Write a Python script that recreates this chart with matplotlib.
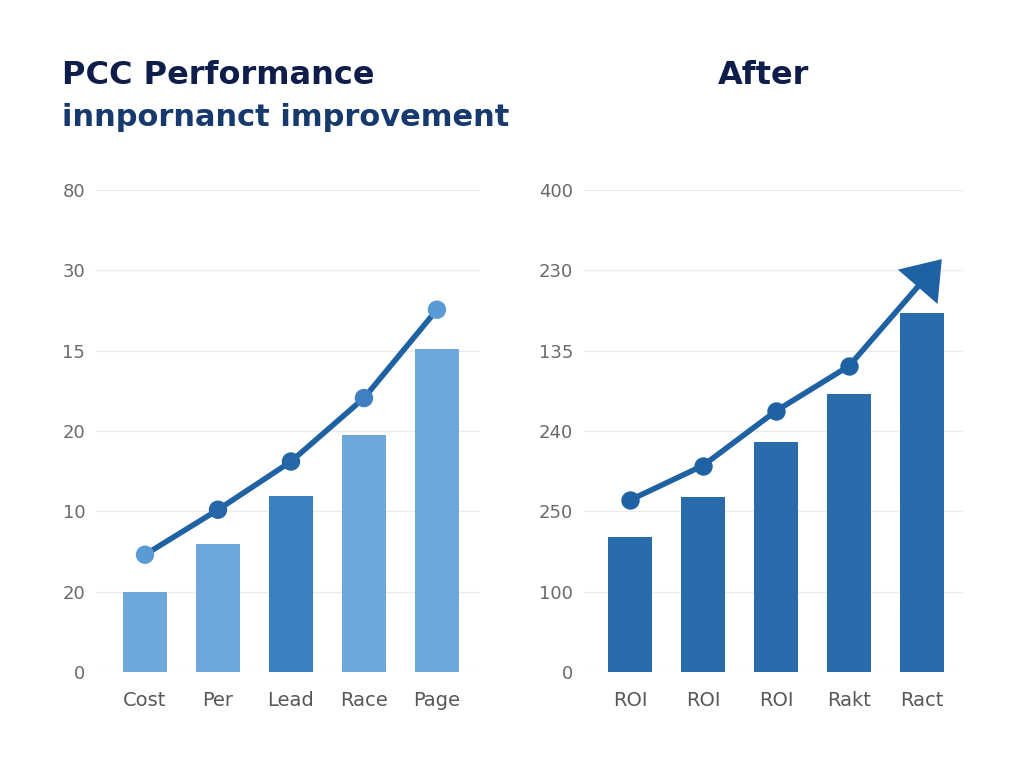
import numpy as np
import matplotlib.pyplot as plt
from matplotlib.patches import FancyArrowPatch

# the tick labels in the source are not monotonic, so values are in grid units
left_cats = ["Cost", "Per", "Lead", "Race", "Page"]
left_bars = [1.0, 1.59, 2.19, 2.95, 4.02]
left_line = [1.46, 2.02, 2.62, 3.41, 4.51]
left_yticklabels = ["0", "20", "10", "20", "15", "30", "80"]

right_cats = ["ROI", "ROI", "ROI", "Rakt", "Ract"]
right_bars = [1.68, 2.18, 2.86, 3.46, 4.47]
right_line = [2.14, 2.57, 3.25, 3.81]
right_arrow_tip = (4.27, 5.14)
right_yticklabels = ["0", "100", "250", "240", "135", "230", "400"]

LIGHT = "#6ea8da"
MID = "#3a7fbf"
DARK = "#2466a8"
LINE = "#1f62a3"
NAVY = "#0f1d4a"
NAVY2 = "#163a6e"

fig = plt.figure(figsize=(10.24, 7.68), dpi=100)
W, H = 1024, 768


def make_ax(x0, x1, y_top, y_bot):
    return fig.add_axes([x0 / W, (H - y_bot) / H, (x1 - x0) / W, (y_bot - y_top) / H])


def style(ax, labels, cats):
    ax.set_ylim(0, 6)
    ax.set_yticks(range(7))
    ax.set_yticklabels(labels, fontsize=13, color="#6a6a6a")
    ax.set_xticks(range(5))
    ax.set_xticklabels(cats, fontsize=14, color="#585858")
    ax.tick_params(length=0)
    ax.tick_params(axis="y", pad=7)
    ax.tick_params(axis="x", pad=14)
    for s in ax.spines.values():
        s.set_visible(False)
    ax.grid(axis="y", color="#ebebeb", linewidth=1)
    ax.set_axisbelow(True)


# left panel
ax1 = make_ax(95, 480, 190, 672)
x = np.arange(len(left_cats))
bar_cols = [LIGHT, LIGHT, MID, LIGHT, LIGHT]
ax1.bar(x, left_bars, width=0.6, color=bar_cols)
ax1.plot(x, left_line, color=LINE, linewidth=4, zorder=3, solid_capstyle="round")
mk_cols = ["#5b9bd5", DARK, DARK, "#3f80c0", "#5b9bd5"]
ax1.scatter(x, left_line, s=150, color=mk_cols, zorder=4, clip_on=False)
ax1.set_xlim(-0.685, 4.59)
style(ax1, left_yticklabels, left_cats)

# right panel
ax2 = make_ax(583, 963, 190, 672)
x2 = np.arange(len(right_cats))
ax2.bar(x2, right_bars, width=0.6, color="#2a6cab")
xl = x2[:len(right_line)]
ax2.plot(xl, right_line, color=LINE, linewidth=4, zorder=3)
ax2.scatter(xl, right_line, s=150, color=LINE, zorder=4)
arr = FancyArrowPatch((xl[-1], right_line[-1]), right_arrow_tip,
                      arrowstyle="-|>,head_length=0.7,head_width=0.5",
                      mutation_scale=30, color=LINE, linewidth=4,
                      joinstyle="miter", capstyle="butt",
                      shrinkA=0, shrinkB=0, zorder=3, clip_on=False)
ax2.add_patch(arr)
ax2.set_xlim(-0.644, 4.56)
style(ax2, right_yticklabels, right_cats)

# titles
fig.text(62 / W, 1 - 75 / H, "PCC Performance", fontsize=23, fontweight="bold",
         color=NAVY, va="center", ha="left")
fig.text(62 / W, 1 - 117 / H, "innpornanct improvement", fontsize=22,
         fontweight="bold", color=NAVY2, va="center", ha="left")
fig.text(764 / W, 1 - 75 / H, "After", fontsize=23, fontweight="bold",
         color=NAVY, va="center", ha="center")

fig.savefig("out.png", dpi=100, facecolor="white")
